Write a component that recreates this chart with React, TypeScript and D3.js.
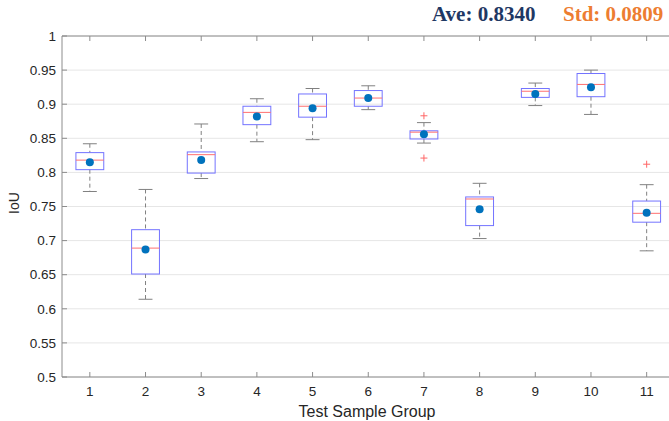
import React from "react";
import * as d3 from "d3";

// values
const groups = [1, 2, 3, 4, 5, 6, 7, 8, 9, 10, 11];
const whiskerHigh = [0.842, 0.775, 0.871, 0.908, 0.923, 0.927, 0.873, 0.784, 0.931, 0.950, 0.782];
const q3 = [0.829, 0.716, 0.830, 0.897, 0.915, 0.920, 0.861, 0.764, 0.923, 0.945, 0.758];
const medians = [0.818, 0.689, 0.826, 0.888, 0.897, 0.909, 0.859, 0.761, 0.919, 0.929, 0.740];
const q1 = [0.804, 0.651, 0.799, 0.870, 0.881, 0.897, 0.849, 0.722, 0.910, 0.911, 0.727];
const whiskerLow = [0.772, 0.614, 0.791, 0.845, 0.848, 0.892, 0.843, 0.703, 0.898, 0.885, 0.685];
const means = [0.815, 0.687, 0.818, 0.882, 0.894, 0.909, 0.856, 0.746, 0.915, 0.925, 0.741];
const outliers: [number, number][] = [[7, 0.883], [7, 0.821], [11, 0.812]];
const yTicks = [0.5, 0.55, 0.6, 0.65, 0.7, 0.75, 0.8, 0.85, 0.9, 0.95, 1];

const W = 669;
const H = 421;
const font = "'Liberation Sans', Arial, sans-serif";
const serif = "'Liberation Serif', 'Times New Roman', serif";

export default function App() {
  const x = d3.scaleLinear().domain([0.5, 11.5]).range([62, 674.5]);
  const y = d3.scaleLinear().domain([0.5, 1]).range([377, 36]);
  const boxW = x(1.5) - x(1);
  const capW = boxW / 2;
  const axisColor = "#8c8c8c";

  return (
    <svg width={W} height={H} style={{ position: "absolute", left: 0, top: 0, background: "#fff" }}>
      {/* grid */}
      {yTicks.map((t) => (
        <line key={"g" + t} x1={x(0.5)} x2={x(11.5)} y1={y(t)} y2={y(t)} stroke="#e6e6e6" strokeWidth={1} />
      ))}

      {/* boxes */}
      {groups.map((g, i) => {
        const cx = x(g);
        return (
          <g key={"b" + g}>
            <line x1={cx} x2={cx} y1={y(whiskerHigh[i])} y2={y(q3[i])} stroke="#808080" strokeDasharray="4,3" />
            <line x1={cx} x2={cx} y1={y(q1[i])} y2={y(whiskerLow[i])} stroke="#808080" strokeDasharray="4,3" />
            <line x1={cx - capW / 2} x2={cx + capW / 2} y1={y(whiskerHigh[i])} y2={y(whiskerHigh[i])} stroke="#808080" />
            <line x1={cx - capW / 2} x2={cx + capW / 2} y1={y(whiskerLow[i])} y2={y(whiskerLow[i])} stroke="#808080" />
            <rect x={cx - boxW / 2} y={y(q3[i])} width={boxW} height={y(q1[i]) - y(q3[i])} fill="none" stroke="#7373ff" />
            <line x1={cx - boxW / 2} x2={cx + boxW / 2} y1={y(medians[i])} y2={y(medians[i])} stroke="#ff7070" />
            <circle cx={cx} cy={y(means[i])} r={4} fill="#0072BD" />
          </g>
        );
      })}

      {/* outliers */}
      {outliers.map(([g, v], i) => (
        <g key={"o" + i} stroke="#ff6666" strokeWidth={1}>
          <line x1={x(g) - 3.5} x2={x(g) + 3.5} y1={y(v)} y2={y(v)} />
          <line x1={x(g)} x2={x(g)} y1={y(v) - 3.5} y2={y(v) + 3.5} />
        </g>
      ))}

      {/* axes */}
      <line x1={x(0.5)} x2={x(0.5)} y1={y(0.5)} y2={y(1)} stroke={axisColor} />
      <line x1={x(0.5)} x2={x(11.5)} y1={y(0.5)} y2={y(0.5)} stroke={axisColor} />
      <line x1={x(0.5)} x2={x(11.5)} y1={y(1)} y2={y(1)} stroke={axisColor} />
      {yTicks.map((t) => (
        <g key={"yt" + t}>
          <line x1={x(0.5)} x2={x(0.5) + 5} y1={y(t)} y2={y(t)} stroke={axisColor} />
          <text x={x(0.5) - 6} y={y(t)} dy="0.35em" textAnchor="end" fontFamily={font} fontSize={13.5} fill="#262626">
            {t}
          </text>
        </g>
      ))}
      {groups.map((g) => (
        <g key={"xt" + g}>
          <line x1={x(g)} x2={x(g)} y1={y(0.5)} y2={y(0.5) - 5} stroke={axisColor} />
          <line x1={x(g)} x2={x(g)} y1={y(1)} y2={y(1) + 5} stroke={axisColor} />
          <text x={x(g)} y={396} textAnchor="middle" fontFamily={font} fontSize={13.5} fill="#262626">
            {g}
          </text>
        </g>
      ))}

      <text x={367} y={417} textAnchor="middle" fontFamily={font} fontSize={16} fill="#262626">
        Test Sample Group
      </text>
      <text transform="translate(19,203) rotate(-90)" textAnchor="middle" fontFamily={font} fontSize={14} fill="#262626">
        IoU
      </text>

      <text x={432} y={21} fontFamily={serif} fontWeight="bold" fontSize={21} fill="#1F3864">
        Ave: 0.8340
      </text>
      <text x={563} y={21} fontFamily={serif} fontWeight="bold" fontSize={21} fill="#ED7D31">
        Std: 0.0809
      </text>
    </svg>
  );
}
